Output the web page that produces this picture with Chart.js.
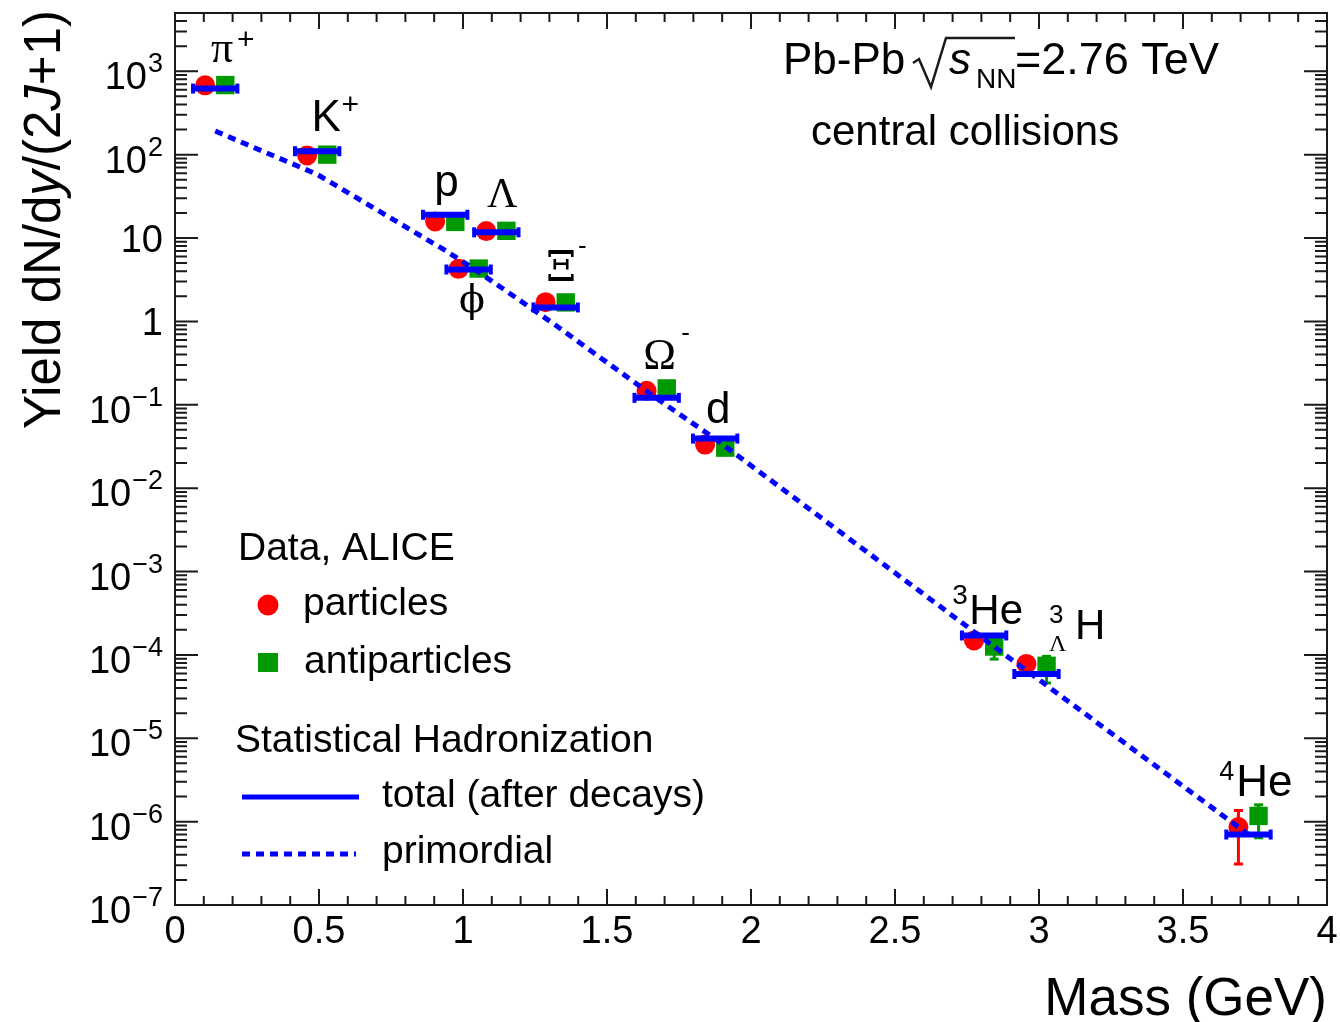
<!DOCTYPE html>
<html>
<head>
<meta charset="utf-8">
<script src="https://cdn.jsdelivr.net/npm/chart.js@4.4.1/dist/chart.umd.min.js"></script>
<style>
  html, body { margin: 0; padding: 0; background: #fff; }
  #wrap { width: 1340px; height: 1022px; }
</style>
</head>
<body>
<div id="wrap"><canvas id="yieldChart" width="1340" height="1022"></canvas></div>
<script>
// Species ordered by mass
const species = ['π+', 'K+', 'p', 'φ', 'Λ', 'Ξ-', 'Ω-', 'd', '3He', '3ΛH', '4He'];
const massGeV = [0.1396, 0.4937, 0.9383, 1.0195, 1.1157, 1.3217, 1.6725, 1.8756, 2.8094, 2.9913, 3.7274];

// ALICE data, dN/dy/(2J+1)
const particleYield     = [678, 98, 15.8, 4.27, 12.1, 1.70, 0.147, 0.0333, 1.49e-4, 7.8e-5, 8.6e-7];
const antiparticleYield = [683, 100, 15.6, 4.30, 12.2, 1.69, 0.157, 0.0306, 1.26e-4, 7.4e-5, 1.17e-6];
const particleErrLow  = [null, null, null, null, null, null, null, null, null, null, 3.1e-7];
const particleErrHigh = [null, null, null, null, null, null, null, null, null, null, 1.36e-6];
const antiErrLow  = [null, null, null, null, null, null, null, null, 8.9e-5, 4.6e-5, 6.4e-7];
const antiErrHigh = [null, null, null, null, null, null, null, null, 1.63e-4, 9.6e-5, 1.59e-6];

// Statistical hadronization model
const shmTotal      = [620, 110, 19.0, 4.19, 11.7, 1.47, 0.121, 0.0393, 1.71e-4, 5.9e-5, 7.0e-7];
const shmPrimordial = [192, 58, 7.1, 4.7, 2.8, 0.90, 0.119, 0.039, 1.54e-4, 5.3e-5, 7.0e-7];

// Axes
const xTickValues = [0, 0.5, 1, 1.5, 2, 2.5, 3, 3.5, 4];
const xTickLabels = ['0', '0.5', '1', '1.5', '2', '2.5', '3', '3.5', '4'];
const yTickExponents = [-7, -6, -5, -4, -3, -2, -1, 0, 1, 2, 3];

const SANS = '"Liberation Sans", Arial, sans-serif';
const SERIF = '"Liberation Serif", "Times New Roman", serif';
const GREEK = '"DejaVu Serif", "Liberation Serif", serif';
const BLUE = '#0000ff';
const RED = '#ff0000';
const GREEN = '#009a00';

const markerShift = 0.035;   // particles left, antiparticles right
const barHalfWidth = 0.077;  // model bar half width in GeV

// particle labels, anchored in data units (left edge, baseline)
const particleLabels = [
    { x: 0.1246, y: 1302, runs: [{ t: 'π', size: 44, serif: true }, { t: '+', size: 30, dx: 26, dy: -13 }] },
    { x: 0.474, y: 190, runs: [{ t: 'K', size: 44 }, { t: '+', size: 30, dx: 30, dy: -17 }] },
    { x: 0.900, y: 31.9, runs: [{ t: 'p', size: 44 }] },
    { x: 1.083, y: 23.6, runs: [{ t: 'Λ', size: 42, serif: true }] },
    { x: 0.986, y: 1.285, runs: [{ t: 'ϕ', size: 38, greek: true }] },
    { x: 1.288, y: 3.09, runs: [{ t: 'Ξ', size: 43, greek: true }, { t: '-', size: 26, dx: 32, dy: -27 }] },
    { x: 1.626, y: 0.268, runs: [{ t: 'Ω', size: 44, serif: true }, { t: '-', size: 26, dx: 38, dy: -28 }] },
    { x: 1.844, y: 0.0609, runs: [{ t: 'd', size: 44 }] },
    { x: 2.699, y: 2.37e-4, runs: [{ t: '3', size: 28, dy: -20 }, { t: 'He', size: 42, dx: 17 }] },
    { x: 3.0346, y: 1.53e-4, runs: [{ t: '3', size: 26, dy: -16 }, { t: 'Λ', size: 24, serif: true, dy: 12 }, { t: 'H', size: 42, dx: 26 }] },
    { x: 3.626, y: 2.05e-6, runs: [{ t: '4', size: 27, dy: -16 }, { t: 'He', size: 44, dx: 17 }] }
];

function fontOf(r) {
    const family = r.greek ? GREEK : (r.serif ? SERIF : SANS);
    return (r.italic ? 'italic ' : '') + r.size + 'px ' + family;
}

// runs with explicit offsets
function drawRuns(ctx, x, y, runs) {
    runs.forEach(r => {
        ctx.font = fontOf(r);
        ctx.fillText(r.t, x + (r.dx || 0), y + (r.dy || 0));
    });
}

// runs drawn one after another
function seqWidth(ctx, runs) {
    let w = 0;
    runs.forEach(r => { ctx.font = fontOf(r); w += ctx.measureText(r.t).width; });
    return w;
}
function drawSeq(ctx, x, y, runs) {
    runs.forEach(r => {
        ctx.font = fontOf(r);
        ctx.fillText(r.t, x, y + (r.dy || 0));
        x += ctx.measureText(r.t).width;
    });
}

// build datasets from the arrays
function pointsAt(values, shift) {
    return massGeV.map((m, i) => ({ x: m + shift, y: values[i] }));
}
function horizontalBars(values) {
    const out = [];
    massGeV.forEach((m, i) => {
        out.push({ x: m - barHalfWidth, y: values[i] });
        out.push({ x: m + barHalfWidth, y: values[i] });
        out.push({ x: m + barHalfWidth, y: null });
    });
    return out;
}
function verticalBars(lo, hi, shift) {
    const out = [];
    massGeV.forEach((m, i) => {
        if (lo[i] == null) return;
        out.push({ x: m + shift, y: lo[i] });
        out.push({ x: m + shift, y: hi[i] });
        out.push({ x: m + shift, y: null });
    });
    return out;
}

const rootStyle = {
    id: 'rootStyle',
    afterDraw(chart) {
        const ctx = chart.ctx;
        const a = chart.chartArea;
        const xs = chart.scales.x, ys = chart.scales.y;
        ctx.save();
        ctx.strokeStyle = '#1a1a1a';
        ctx.fillStyle = '#000';
        ctx.lineWidth = 2;

        // ticks, inside the frame on all four sides
        ctx.beginPath();
        for (let e = -7; e <= 3; e++) {
            for (let k = 1; k <= 9; k++) {
                const v = k * Math.pow(10, e);
                if (v > ys.max) break;
                const py = ys.getPixelForValue(v);
                const len = k === 1 ? 23 : 12;
                ctx.moveTo(a.left, py); ctx.lineTo(a.left + len, py);
                ctx.moveTo(a.right, py); ctx.lineTo(a.right - len, py);
            }
        }
        for (let i = 0; i <= 40; i++) {
            const px = xs.getPixelForValue(i / 10);
            const len = i % 5 === 0 ? 16 : 9;
            ctx.moveTo(px, a.bottom); ctx.lineTo(px, a.bottom - len);
            ctx.moveTo(px, a.top); ctx.lineTo(px, a.top + len);
        }
        ctx.stroke();
        ctx.strokeRect(a.left, a.top, a.right - a.left, a.bottom - a.top);

        // x tick labels
        ctx.textAlign = 'center';
        ctx.textBaseline = 'alphabetic';
        ctx.font = '38px ' + SANS;
        xTickValues.forEach((v, i) => {
            ctx.fillText(xTickLabels[i], xs.getPixelForValue(v), a.bottom + 38);
        });

        // y tick labels
        ctx.textAlign = 'left';
        const labelRight = a.left - 12;
        yTickExponents.forEach(e => {
            const py = ys.getPixelForValue(Math.pow(10, e));
            if (e === 0 || e === 1) {
                ctx.font = '38px ' + SANS;
                const t = e === 0 ? '1' : '10';
                ctx.fillText(t, labelRight - ctx.measureText(t).width, py + 14);
                return;
            }
            const sup = (e < 0 ? '\u2212' : '') + Math.abs(e);
            ctx.font = '27px ' + SANS;
            const sw = ctx.measureText(sup).width;
            ctx.fillText(sup, labelRight - sw, py + 1);
            ctx.font = '38px ' + SANS;
            const bw = ctx.measureText('10').width;
            ctx.fillText('10', labelRight - sw - 1 - bw, py + 18);
        });

        // axis titles
        ctx.font = '53px ' + SANS;
        ctx.textAlign = 'right';
        ctx.fillText('Mass (GeV)', a.right, 1015);
        ctx.textAlign = 'left';

        const yTitle = [
            { t: 'Yield dN/d', size: 51 }, { t: 'y', size: 51, italic: true },
            { t: '/(2', size: 51 }, { t: 'J', size: 51, italic: true }, { t: '+1)', size: 51 }
        ];
        ctx.save();
        ctx.translate(60, 10);
        ctx.rotate(-Math.PI / 2);
        drawSeq(ctx, -seqWidth(ctx, yTitle), 0, yTitle);
        ctx.restore();

        // particle names
        particleLabels.forEach(l => {
            drawRuns(ctx, xs.getPixelForValue(l.x), ys.getPixelForValue(l.y), l.runs);
        });

        // collision system
        ctx.font = '44px ' + SANS;
        ctx.fillText('Pb-Pb', 783, 74);
        ctx.beginPath();
        ctx.lineWidth = 2.5;
        ctx.moveTo(913, 63); ctx.lineTo(919, 59); ctx.lineTo(931, 87);
        ctx.lineTo(946, 38); ctx.lineTo(1015, 38);
        ctx.stroke();
        ctx.font = 'italic 44px ' + SANS;
        ctx.fillText('s', 949, 74);
        ctx.font = '28px ' + SANS;
        ctx.fillText('NN', 976, 88);
        ctx.font = '45px ' + SANS;
        ctx.fillText('=2.76 TeV', 1015, 74);
        ctx.font = '42px ' + SANS;
        ctx.fillText('central collisions', 811, 145);

        // legend
        ctx.font = '39px ' + SANS;
        ctx.fillText('Data, ALICE', 238, 560);
        ctx.fillText('particles', 303, 615);
        ctx.fillText('antiparticles', 304, 673);
        ctx.fillText('Statistical Hadronization', 235, 752);
        ctx.fillText('total (after decays)', 382, 807);
        ctx.fillText('primordial', 382, 863);

        ctx.fillStyle = RED;
        ctx.beginPath();
        ctx.arc(268, 605, 10.5, 0, Math.PI * 2);
        ctx.fill();
        ctx.fillStyle = GREEN;
        ctx.fillRect(258, 653, 20, 19);

        ctx.strokeStyle = BLUE;
        ctx.lineWidth = 5;
        ctx.beginPath();
        ctx.moveTo(242, 797); ctx.lineTo(359, 797);
        ctx.stroke();
        ctx.setLineDash([8, 6]);
        ctx.beginPath();
        ctx.moveTo(242, 854); ctx.lineTo(356, 854);
        ctx.stroke();
        ctx.restore();
    }
};

const ctx = document.getElementById('yieldChart').getContext('2d');
const yieldChart = new Chart(ctx, {
    type: 'scatter',
    data: {
        datasets: [
            {
                label: 'primordial',
                type: 'line',
                data: pointsAt(shmPrimordial, 0),
                borderColor: BLUE,
                borderWidth: 5,
                borderDash: [8, 6],
                pointRadius: 0,
                fill: false,
                tension: 0,
                order: 0
            },
            {
                label: 'total (after decays)',
                type: 'line',
                data: horizontalBars(shmTotal),
                borderColor: BLUE,
                borderWidth: 6,
                pointStyle: 'line',
                pointRotation: 90,
                pointRadius: 5,
                pointBorderWidth: 4,
                pointBorderColor: BLUE,
                spanGaps: false,
                fill: false,
                order: 1
            },
            {
                label: 'particle errors',
                type: 'line',
                data: verticalBars(particleErrLow, particleErrHigh, -markerShift),
                borderColor: RED,
                borderWidth: 3,
                pointStyle: 'line',
                pointRadius: 4.5,
                pointBorderWidth: 3,
                pointBorderColor: RED,
                spanGaps: false,
                order: 2
            },
            {
                label: 'antiparticle errors',
                type: 'line',
                data: verticalBars(antiErrLow, antiErrHigh, markerShift),
                borderColor: GREEN,
                borderWidth: 3,
                pointStyle: 'line',
                pointRadius: 4.5,
                pointBorderWidth: 3,
                pointBorderColor: GREEN,
                spanGaps: false,
                order: 2
            },
            {
                label: 'particles',
                data: pointsAt(particleYield, -markerShift),
                pointStyle: 'circle',
                pointRadius: 10,
                pointBorderWidth: 0,
                backgroundColor: RED,
                borderColor: RED,
                order: 3
            },
            {
                label: 'antiparticles',
                data: pointsAt(antiparticleYield, markerShift),
                pointStyle: 'rect',
                pointRadius: 13,
                pointBorderWidth: 0,
                backgroundColor: GREEN,
                borderColor: GREEN,
                order: 4
            }
        ]
    },
    options: {
        responsive: false,
        animation: false,
        devicePixelRatio: 1,
        layout: { padding: { left: 175, top: 8, right: 9, bottom: 117 } },
        plugins: {
            legend: { display: false },
            tooltip: { enabled: false }
        },
        scales: {
            x: { type: 'linear', min: 0, max: 4, display: false },
            y: { type: 'logarithmic', min: 1e-7, max: 5000, display: false }
        }
    },
    plugins: [rootStyle]
});
</script>
</body>
</html>
